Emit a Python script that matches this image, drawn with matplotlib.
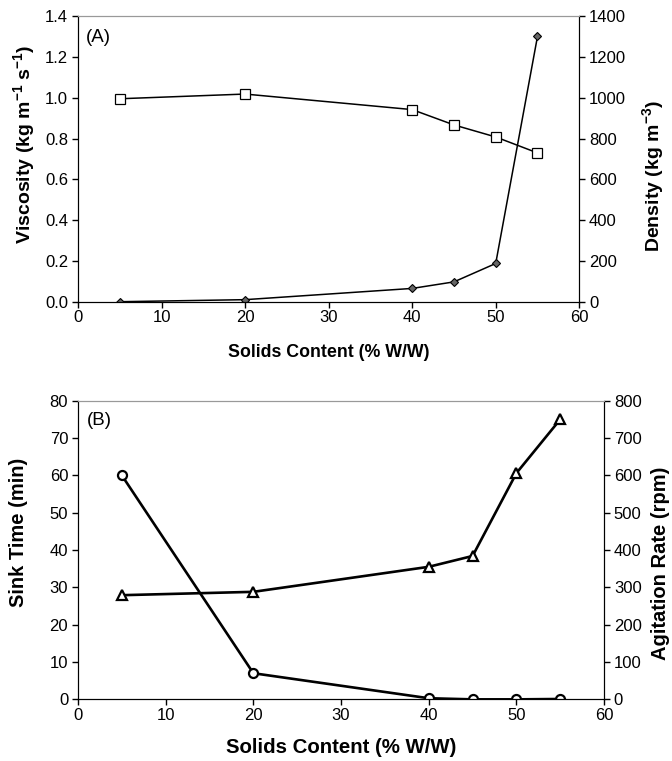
import matplotlib
matplotlib.use("Agg")
import matplotlib.pyplot as plt

plt.rcParams['font.family'] = ['Liberation Sans', 'DejaVu Sans']
plt.rcParams['mathtext.fontset'] = 'custom'
plt.rcParams['mathtext.rm'] = 'Liberation Sans'
plt.rcParams['mathtext.bf'] = 'Liberation Sans:bold'

# Panel A data
solids = [5, 20, 40, 45, 50, 55]
viscosity = [0.002, 0.012, 0.067, 0.099, 0.189, 1.30]
density = [995, 1018, 942, 867, 808, 730]

# Panel B data
sink_time = [60, 7, 0.3, 0, 0, 0.1]
agitation = [279, 288, 355, 384, 606, 750]

fig = plt.figure(figsize=(6.72, 7.61), dpi=100)

def style(ax, ax2, size):
    for a in (ax, ax2):
        a.spines['top'].set_color('#999999')
        a.tick_params(direction='out', length=4, width=1, labelsize=size, colors='black', pad=2)
    ax.tick_params(axis='y', pad=3)
    ax2.tick_params(axis='y', pad=3)

# Panel A
axA = fig.add_axes([0.116, 0.603, 0.746, 0.376])
axA2 = axA.twinx()
axA.plot(solids, viscosity, '-', color='black', lw=1.1, marker='D', ms=4,
         mfc='#666666', mec='black', mew=0.8)
axA2.plot(solids, density, '-', color='black', lw=1.1, marker='s', ms=6.5,
          mfc='white', mec='black', mew=0.9)
axA.set_xlim(0, 60)
axA.set_ylim(0, 1.4)
axA2.set_ylim(0, 1400)
axA.set_xticks(range(0, 61, 10))
axA.set_yticks([i * 0.2 for i in range(8)])
axA.set_yticklabels([f"{i*0.2:.1f}" for i in range(8)])
axA2.set_yticks(range(0, 1401, 200))
axA.set_xlabel('Solids Content (% W/W)', fontsize=12.8, fontweight='bold', labelpad=13)
axA.set_ylabel(r'Viscosity (kg m$^{\mathbf{-1}}$ s$^{\mathbf{-1}}$)', fontsize=14, fontweight='bold')
axA2.set_ylabel(r'Density (kg m$^{\mathbf{-3}}$)', fontsize=14, fontweight='bold')
axA.yaxis.set_label_coords(-0.08, 0.55)
axA2.yaxis.set_label_coords(1.122, 0.44)
axA.text(1.0, 1.275, '(A)', fontsize=13.5)
style(axA, axA2, 12)

# Panel B
axB = fig.add_axes([0.116, 0.081, 0.783, 0.3925])
axB2 = axB.twinx()
axB.plot(solids, sink_time, '-', color='black', lw=1.9, marker='o', ms=6.5,
         mfc='white', mec='black', mew=1.6)
axB2.plot(solids, agitation, '-', color='black', lw=1.9, marker='^', ms=7.5,
          mfc='white', mec='black', mew=1.6)
axB.set_xlim(0, 60)
axB.set_ylim(0, 80)
axB2.set_ylim(0, 800)
axB.set_xticks(range(0, 61, 10))
axB.set_yticks(range(0, 81, 10))
axB2.set_yticks(range(0, 801, 100))
axB.set_xlabel('Solids Content (% W/W)', fontsize=14.7, fontweight='bold', labelpad=11)
axB.set_ylabel('Sink Time (min)', fontsize=14.5, fontweight='bold')
axB2.set_ylabel('Agitation Rate (rpm)', fontsize=14.5, fontweight='bold')
axB.yaxis.set_label_coords(-0.094, 0.56)
axB2.yaxis.set_label_coords(1.089, 0.455)
axB.text(1.0, 73.5, '(B)', fontsize=13.5)
style(axB, axB2, 12)

fig.savefig('out.png', dpi=100)
